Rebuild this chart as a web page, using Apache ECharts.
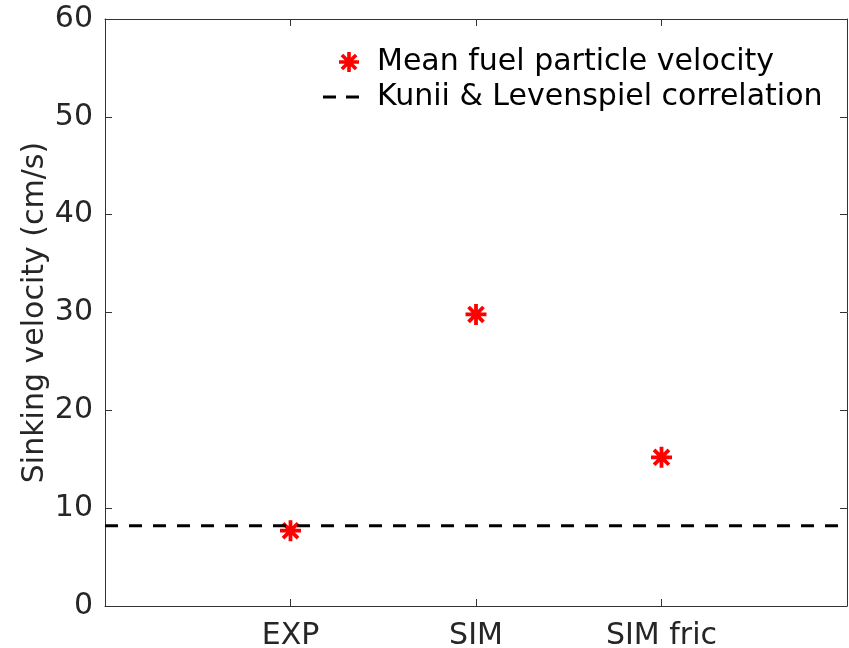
<!DOCTYPE html>
<html>
<head>
<meta charset="utf-8">
<script src="https://cdn.jsdelivr.net/npm/echarts@6/dist/echarts.min.js"></script>
<style>
  html, body { margin: 0; padding: 0; background: #fff; }
  #chart { width: 849px; height: 648px; }
</style>
</head>
<body>
<div id="chart"></div>
<script>
// Cases compared on the horizontal axis (placed at x = 1, 2, 3)
const categories = ['EXP', 'SIM', 'SIM fric'];
// Mean fuel particle sinking velocity for each case (cm/s)
const meanVelocity = [7.7, 29.8, 15.2];
// Kunii & Levenspiel correlation value (cm/s)
const correlationVelocity = 8.2;
// Axis ranges
const xRange = [0, 4];
const yTicks = [0, 10, 20, 30, 40, 50, 60];

const seriesNames = ['Mean fuel particle velocity', 'Kunii & Levenspiel correlation'];

// Eight-spoke asterisk marker
const asterisk = 'path://M41,0L59,0L59,100L41,100Z' +
  'M0,41L100,41L100,59L0,59Z' +
  'M20.9,8.2L91.8,79.1L79.1,91.8L8.2,20.9Z' +
  'M79.1,8.2L91.8,20.9L20.9,91.8L8.2,79.1Z';
// Two short dashes for the correlation legend entry
const dashIcon = 'path://M0,0L13,0L13,3L0,3Z M23,0L36,0L36,3L23,3Z';

const font = 'DejaVu Sans';
const axisColor = '#333333';
const textColor = '#262626';
const fs = 30;

const pointData = meanVelocity.map((v, i) => [i + 1, v]);
const lineData = xRange.map(x => [x, correlationVelocity]);

const tickFmt = v => {
  const idx = Math.round(v) - 1;
  return (Math.abs(v - Math.round(v)) < 1e-9 && idx >= 0 && idx < categories.length) ? categories[idx] : '';
};

const baseX = {
  type: 'value', min: xRange[0], max: xRange[1], interval: 1,
  axisLine: { show: true, onZero: false, lineStyle: { color: axisColor, width: 1 } },
  axisTick: { show: true, inside: true, length: 7, lineStyle: { color: axisColor } },
  splitLine: { show: false }
};
const baseY = {
  type: 'value', min: yTicks[0], max: yTicks[yTicks.length - 1], interval: 10,
  axisLine: { show: true, onZero: false, lineStyle: { color: axisColor, width: 1 } },
  axisTick: { show: true, inside: true, length: 7, lineStyle: { color: axisColor } },
  splitLine: { show: false }
};

const chart = echarts.init(document.getElementById('chart'), null, { renderer: 'canvas' });
chart.setOption({
  animation: false,
  backgroundColor: '#ffffff',
  textStyle: { fontFamily: font },
  grid: { left: 105, right: 2, top: 19, bottom: 42, containLabel: false, outerBoundsMode: 'none' },
  xAxis: [
    Object.assign({}, baseX, {
      position: 'bottom',
      axisLabel: { show: true, formatter: tickFmt, color: textColor, fontSize: fs, fontFamily: font, margin: 15 }
    }),
    Object.assign({}, baseX, { position: 'top', axisLabel: { show: false } })
  ],
  yAxis: [
    Object.assign({}, baseY, {
      position: 'left',
      name: 'Sinking velocity (cm/s)',
      nameLocation: 'middle',
      nameGap: 55,
      nameMoveOverlap: false,
      nameTextStyle: { color: textColor, fontSize: fs, fontFamily: font },
      axisLabel: { show: true, color: textColor, fontSize: fs, fontFamily: font, margin: 12 }
    }),
    Object.assign({}, baseY, { position: 'right', axisLabel: { show: false } })
  ],
  legend: [
    {
      data: [{ name: seriesNames[0], icon: asterisk }],
      left: 334, top: 42,
      itemWidth: 20, itemHeight: 20,
      itemStyle: { opacity: 1 },
      textStyle: { color: '#000', fontSize: fs, fontFamily: font, padding: [0, 0, 0, 13] },
      selectedMode: false
    },
    {
      data: [{ name: seriesNames[1], icon: dashIcon }],
      left: 318, top: 77,
      itemWidth: 36, itemHeight: 3,
      textStyle: { color: '#000', fontSize: fs, fontFamily: font, padding: [0, 0, 0, 13] },
      selectedMode: false
    }
  ],
  series: [
    {
      name: seriesNames[0],
      type: 'scatter',
      data: pointData,
      symbol: asterisk,
      symbolSize: 21,
      itemStyle: { color: '#ff0000', opacity: 1 },
      z: 2
    },
    {
      name: seriesNames[1],
      type: 'line',
      data: lineData,
      symbol: 'none',
      lineStyle: { color: '#000', width: 3, type: [13, 11] },
      itemStyle: { color: '#000' },
      z: 3
    }
  ]
});
</script>
</body>
</html>
